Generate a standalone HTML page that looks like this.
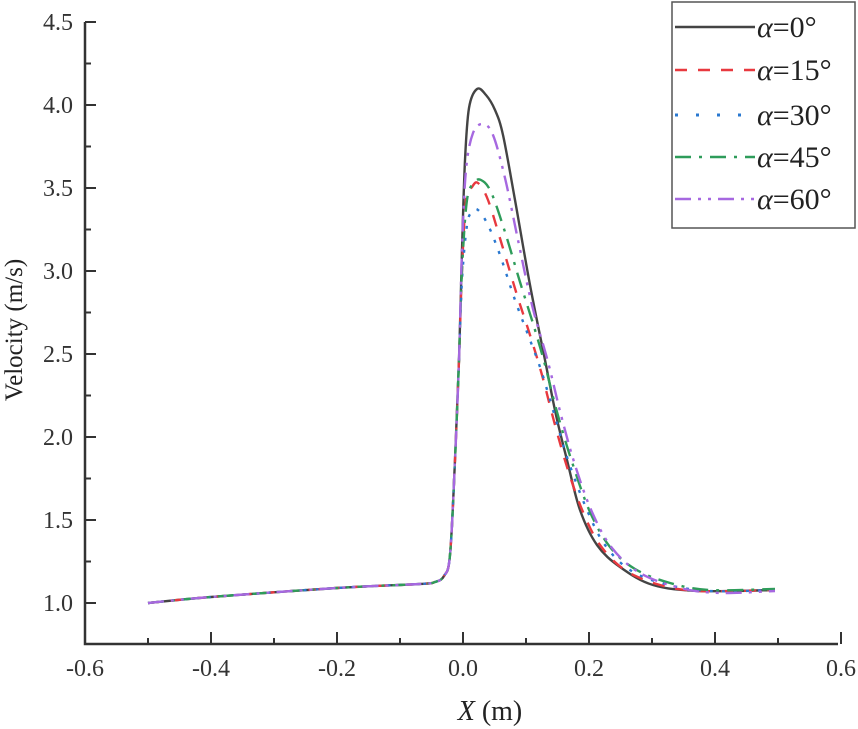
<!DOCTYPE html>
<html><head><meta charset="utf-8"><style>
body{margin:0;background:#fff}
svg{display:block}
text{font-family:"Liberation Serif","Times New Roman",serif}
</style></head><body>
<svg id="s" width="858" height="729" viewBox="0 0 858 729" xmlns="http://www.w3.org/2000/svg">
<g stroke="#333" stroke-width="2.5" fill="none">
<path d="M85,22 V644 H838"/>
</g>
<g id="ticks" stroke="#333" stroke-width="2"></g>
<g font-size="24" fill="#333" text-anchor="end" id="yl" font-family="Liberation Serif, serif"></g>
<g font-size="24" fill="#333" text-anchor="middle" id="xl" font-family="Liberation Serif, serif"></g>
<text transform="translate(22,330) rotate(-90)" font-size="25" text-anchor="middle" fill="#222" font-family="Liberation Serif, serif">Velocity  (m/s)</text>
<text x="490" y="720" font-size="28" text-anchor="middle" fill="#222" font-family="Liberation Serif, serif"><tspan font-style="italic">X</tspan> (m)</text>
<g id="curves" fill="none" stroke-width="2.4"></g>
<rect x="672" y="2" width="183" height="226" fill="#fff" stroke="#555" stroke-width="1.5"/>
<g font-size="30" fill="#222" font-family="Liberation Serif, serif">
<line x1="675" y1="27" x2="755" y2="27" stroke="#444" stroke-width="2.5"/>
<text x="757" y="37"><tspan font-style="italic">α</tspan>=0°</text>
<line x1="675" y1="70" x2="755" y2="70" stroke="#e8393f" stroke-width="2.5" stroke-dasharray="12,11"/>
<text x="757" y="80"><tspan font-style="italic">α</tspan>=15°</text>
<line x1="675" y1="115" x2="745" y2="115" stroke="#2a78d0" stroke-width="3" stroke-dasharray="3,18"/>
<text x="757" y="125"><tspan font-style="italic">α</tspan>=30°</text>
<line x1="675" y1="157" x2="755" y2="157" stroke="#2e9c5a" stroke-width="2.5" stroke-dasharray="16,8,3,8"/>
<text x="757" y="167"><tspan font-style="italic">α</tspan>=45°</text>
<line x1="675" y1="199" x2="755" y2="199" stroke="#a668e0" stroke-width="2.5" stroke-dasharray="16,7,3,7,3,7"/>
<text x="757" y="209"><tspan font-style="italic">α</tspan>=60°</text>
</g>
</svg>
<script>
var NS="http://www.w3.org/2000/svg";
function el(p,t,a,txt){var e=document.createElementNS(NS,t);for(var k in a)e.setAttribute(k,a[k]);if(txt)e.textContent=txt;document.getElementById(p).appendChild(e);}
function Y(v){return 603-(v-1)*166;}
function X(v){return 85+(v+0.6)*630;}
for(var v=1;v<=4.5001;v+=0.25){var maj=Math.abs(v*2-Math.round(v*2))<1e-6;el("ticks","line",{x1:85,x2:maj?96:91,y1:Y(v),y2:Y(v)});if(maj)el("yl","text",{x:73,y:Y(v)+8},v.toFixed(1));}
for(var i=-6;i<=6;i++){var v=i/10,maj=i%2==0;el("ticks","line",{x1:X(v),x2:X(v),y1:644,y2:maj?632:638});if(maj)el("xl","text",{x:X(v),y:676},(v<0?"-":"")+Math.abs(v).toFixed(1));}
function cr(p){var d="M"+p[0][0]+","+p[0][1];for(var i=0;i<p.length-1;i++){var p0=p[i-1]||p[i],p1=p[i],p2=p[i+1],p3=p[i+2]||p2;d+=" C"+(p1[0]+(p2[0]-p0[0])/6)+","+(p1[1]+(p2[1]-p0[1])/6)+" "+(p2[0]-(p3[0]-p1[0])/6)+","+(p2[1]-(p3[1]-p1[1])/6)+" "+p2[0]+","+p2[1];}return d;}
var base=[[148,603],[211,597],[337,588],[420,584],[435,582],[444,576],[450,555]];
var series=[
{c:"#444",da:"",p:base.concat([[455,460],[459,360],[462,250],[465,160],[469,108],[477,89],[486,95],[495,110],[503,135],[515,200],[530,285],[545,360],[556,415],[567,460],[580,510],[597,545],[620,567],[653,585],[700,591],[775,590]])},
{c:"#e8393f",da:"12,11",p:base.concat([[455,460],[459,360],[462,270],[466,200],[472,187],[478,183],[488,200],[502,245],[517,295],[530,335],[542,375],[555,425],[568,470],[583,512],[600,545],[625,570],[660,585],[700,591],[775,590]])},
{c:"#2a78d0",da:"3,9",p:base.concat([[455,460],[459,360],[462,280],[467,225],[472,212],[478,210],[488,225],[500,255],[515,300],[530,340],[541,370],[553,410],[568,460],[587,510],[605,545],[630,570],[665,584],[710,591],[775,590]])},
{c:"#2e9c5a",da:"16,8,3,8",p:base.concat([[455,460],[459,360],[462,270],[467,200],[474,183],[481,180],[491,192],[505,232],[520,282],[535,330],[545,365],[557,412],[572,462],[590,512],[610,547],[635,569],[670,583],[710,590],[775,589]])},
{c:"#a668e0",da:"16,7,3,7,3,7",p:base.concat([[455,460],[459,360],[462,250],[466,170],[473,133],[483,124],[493,135],[505,178],[518,240],[532,305],[548,362],[561,415],[575,465],[592,512],[612,548],[640,573],[680,588],[720,593],[775,591]])}
];
series.forEach(function(s){el("curves","path",{d:cr(s.p),stroke:s.c,"stroke-dasharray":s.da});});
</script>
</body></html>
